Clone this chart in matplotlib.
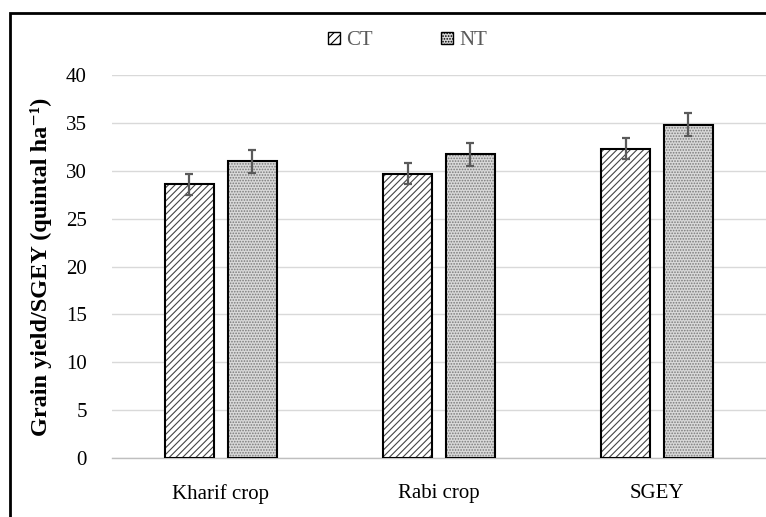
import numpy as np
import matplotlib
matplotlib.use("Agg")
import matplotlib.pyplot as plt
from matplotlib.patches import Patch, Rectangle

plt.rcParams["font.family"] = ["Liberation Serif", "DejaVu Serif"]
plt.rcParams["hatch.linewidth"] = 0.8

# ---- data
categories = ["Kharif crop", "Rabi crop", "SGEY"]
ct_vals = [28.6, 29.7, 32.3]
ct_err = [1.1, 1.1, 1.1]
nt_vals = [31.0, 31.7, 34.8]
nt_err = [1.2, 1.2, 1.2]

fig = plt.figure(figsize=(7.66, 5.17), dpi=100)
ax = fig.add_axes([0.146, 0.114, 0.854, 0.741])

x = np.arange(len(categories))
w = 0.225
off = 0.144

# hatch layers
ax.bar(x - off, ct_vals, w, color="white", edgecolor="#444444", hatch="/////", linewidth=0, zorder=2)
ax.bar(x + off, nt_vals, w, color="#d9d9d9", edgecolor="#7a7a7a", hatch="......", linewidth=0, zorder=2)
# outlines + error bars
ekw = dict(ecolor="#5a5a5a", elinewidth=1.6, capsize=3, capthick=1.6, zorder=4)
ax.bar(x - off, ct_vals, w, fill=False, edgecolor="black", linewidth=1.5, zorder=3,
       yerr=ct_err, error_kw=ekw)
ax.bar(x + off, nt_vals, w, fill=False, edgecolor="black", linewidth=1.5, zorder=3,
       yerr=nt_err, error_kw=ekw)

ax.set_xlim(-0.5, 2.5)
ax.set_ylim(0, 40)
ax.set_yticks(np.arange(0, 41, 5))
ax.set_xticks(x)
ax.set_xticklabels(categories)
ax.tick_params(axis="both", length=0, labelsize=15, colors="black")
ax.tick_params(axis="x", pad=19)
ax.tick_params(axis="y", pad=18)
ax.set_axisbelow(True)
ax.grid(axis="y", color="#d9d9d9", linewidth=1)
for s in ("top", "right", "left"):
    ax.spines[s].set_visible(False)
ax.spines["bottom"].set_color("#bfbfbf")
ax.spines["bottom"].set_linewidth(1)

ax.set_ylabel("Grain yield/SGEY (quintal ha⁻¹)", fontsize=17.5, fontweight="bold", labelpad=10)

handles = [Patch(facecolor="white", edgecolor="black", hatch="////", label="CT"),
           Patch(facecolor="#d9d9d9", edgecolor="black", hatch="......", label="NT")]
leg = fig.legend(handles=handles, loc="center", bbox_to_anchor=(0.532, 0.921), ncol=2, frameon=False,
                 fontsize=15, handlelength=0.55, handleheight=0.55, handletextpad=0.3, columnspacing=3.3)
for t in leg.get_texts():
    t.set_color("#595959")

# figure frame
fig.patches.append(Rectangle((0.013, -0.01), 1.2, 0.985, transform=fig.transFigure,
                             fill=False, edgecolor="black", linewidth=2))

fig.savefig("out.png", dpi=100)
